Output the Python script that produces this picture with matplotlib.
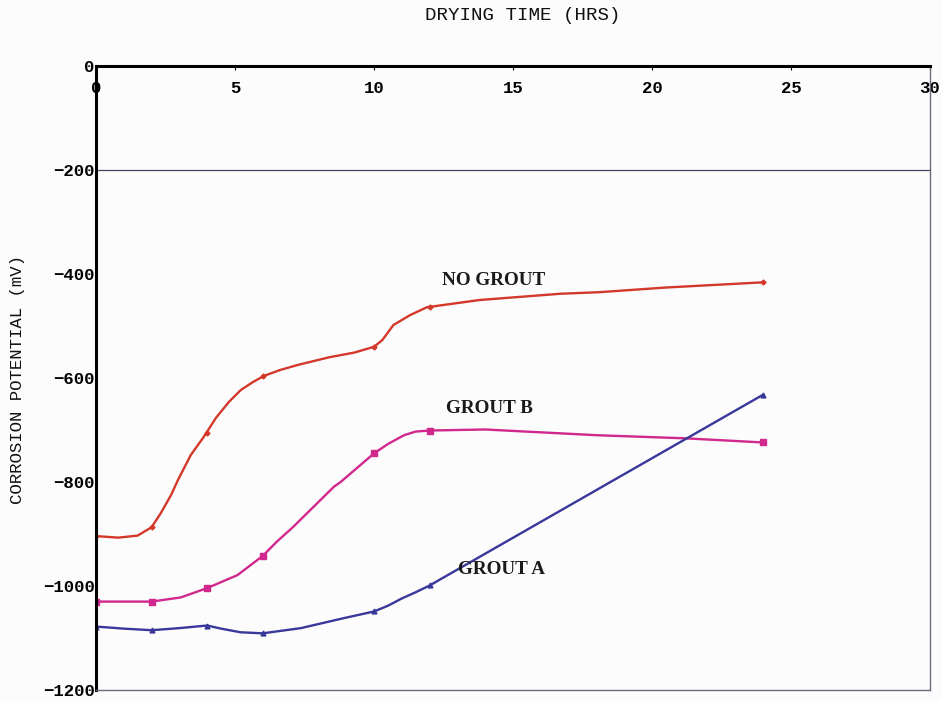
import numpy as np
import matplotlib.pyplot as plt

# traced curves (hours, mV)
no_grout_hrs = [0, 0.8, 1.5, 2.0, 2.33, 2.7, 2.95, 3.41, 3.88, 4.31, 4.78, 5.21, 5.64, 6.04, 6.6,
                7.25, 8.4, 9.3, 10.0, 10.3, 10.7, 11.3, 11.9, 13.8, 16.7, 18.1, 20.5, 24.0]
no_grout_mv = [-904, -907, -903, -887, -860, -825, -796, -748, -713, -677, -646, -623, -608, -596, -585,
               -575, -560, -551, -540, -527, -498, -479, -464, -450, -438, -435, -426, -416]

grout_b_hrs = [0, 2, 3.05, 4, 5.09, 6, 6.5, 7.1, 8.56, 8.8, 10, 10.5, 11.08, 11.5, 12, 14, 18, 21.2, 24]
grout_b_mv = [-1030, -1030, -1022, -1004, -979, -942, -915, -886, -809, -800, -745, -727, -710, -703,
              -701, -699, -710, -716, -724]

grout_a_hrs = [0, 1, 2, 3, 4, 4.5, 5.2, 6, 7.37, 8.9, 10, 10.5, 11, 11.5, 12, 24]
grout_a_mv = [-1078, -1082, -1085, -1081, -1076, -1082, -1089, -1091, -1081, -1062, -1049, -1038,
              -1024, -1012, -999, -632]

# measured points (markers)
meas_hrs = [0, 2, 4, 6, 10, 12, 24]
no_grout_pts = [-904, -887, -706, -596, -540, -464, -416]
grout_b_pts = [-1030, -1030, -1004, -942, -745, -701, -724]
grout_a_pts = [-1078, -1085, -1076, -1091, -1049, -999, -632]

x_ticks = [0, 5, 10, 15, 20, 25, 30]
y_ticks = [0, -200, -400, -600, -800, -1000, -1200]

red = "#d4382a"
magenta = "#d0288c"
blue = "#38389a"

fig = plt.figure(figsize=(9.42, 7.02), dpi=100, facecolor="#fcfcfd")
ax = fig.add_axes([96 / 942, 1 - 690 / 702, 834 / 942, 624 / 702])
ax.set_facecolor("#fcfcfd")

ax.plot(no_grout_hrs, no_grout_mv, color=red, lw=1.7, solid_joinstyle="round")
ax.plot(meas_hrs, no_grout_pts, ls="none", marker="D", ms=2.5, color=red)
ax.plot(grout_b_hrs, grout_b_mv, color=magenta, lw=1.7, solid_joinstyle="round")
ax.plot(meas_hrs, grout_b_pts, ls="none", marker="s", ms=4.5, color=magenta)
ax.plot(grout_a_hrs, grout_a_mv, color=blue, lw=1.7, solid_joinstyle="round")
ax.plot(meas_hrs, grout_a_pts, ls="none", marker="^", ms=3.5, color=blue)

ax.axhline(-200, color="#4a3f5c", lw=0.9)

ax.set_xlim(0, 30)
ax.set_ylim(-1200, 0)
ax.set_xticks(x_ticks)
ax.set_yticks(y_ticks)

mono = "Liberation Mono"
ax.xaxis.tick_top()
ax.tick_params(axis="x", direction="in", length=3, pad=-16, labelsize=12.5)
ax.tick_params(axis="y", direction="in", length=0, pad=1, labelsize=12.5)
for lab in ax.get_xticklabels() + ax.get_yticklabels():
    lab.set_family(mono)
    lab.set_weight("bold")
for lab in ax.get_xticklabels():
    lab.set_verticalalignment("center")

ax.spines["top"].set_linewidth(2.2)
ax.spines["left"].set_linewidth(2.2)
ax.spines["right"].set_linewidth(1.0)
ax.spines["right"].set_color("#6a6a7a")
ax.spines["bottom"].set_linewidth(1.0)
ax.spines["bottom"].set_color("#6a6a7a")

fig.text(523 / 942, 1 - 16 / 702, "DRYING TIME (HRS)", family=mono, fontsize=13.8,
         ha="center", va="center", color="#111111")
fig.text(18 / 942, 1 - 380 / 702, "CORROSION POTENTIAL (mV)", family=mono, fontsize=12.5,
         rotation=90, ha="center", va="center", color="#111111")

lab_font = dict(family="Liberation Serif", weight="bold", fontsize=13.8, color="#1a1a1a",
                ha="center", va="center")
ax.text(14.3, -413, "NO GROUT", **lab_font)
ax.text(14.15, -658, "GROUT B", **lab_font)
ax.text(14.6, -969, "GROUT A", **lab_font)

fig.savefig("out.png", dpi=100, facecolor=fig.get_facecolor())
